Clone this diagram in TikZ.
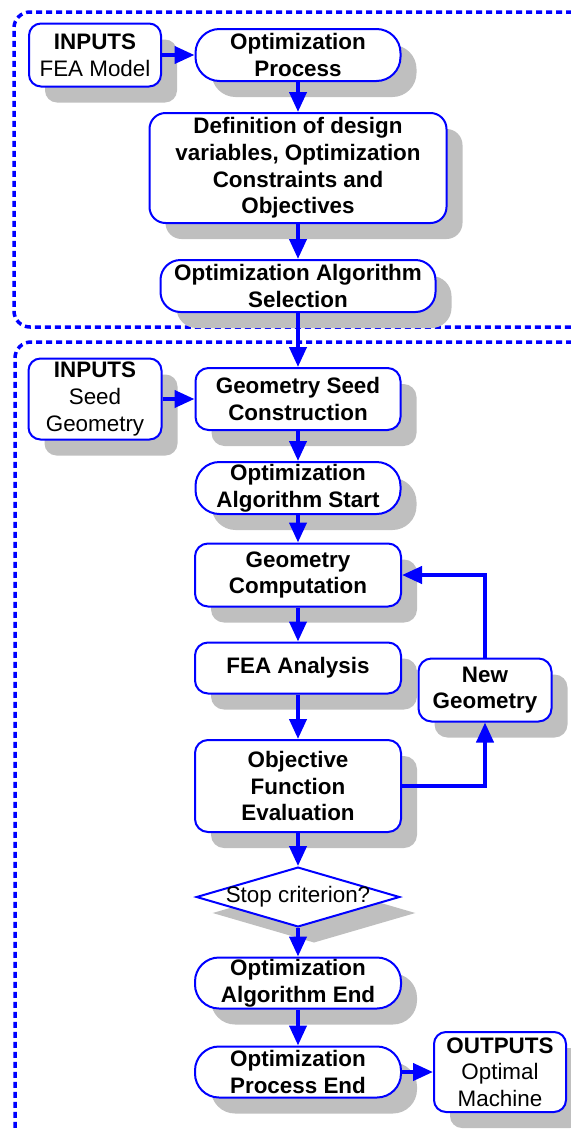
\documentclass[tikz,border=0pt]{standalone}
\usepackage{fontspec}
\setmainfont{Liberation Sans}
\usetikzlibrary{shapes.geometric,shadows,arrows.meta}

\colorlet{box edge}{blue}
\colorlet{box shadow}{black!25}
\tikzset{
  shadowed/.style={drop shadow={shadow xshift=8pt, shadow yshift=-8pt, fill=box shadow, opacity=1}},
  block/.style={rectangle, draw=box edge, line width=1pt, fill=white, rounded corners=6.5pt,
    align=center, inner sep=0pt, font=\bfseries\fontsize{11.2}{13.3}\selectfont, shadowed},
  terminal/.style={block, rounded corners=12pt},
  io/.style={block, rounded corners=6pt, font=\fontsize{11.2}{13.3}\selectfont},
  decision/.style={diamond, aspect=3.4, draw=box edge, line width=1pt, fill=white,
    inner xsep=-3pt, inner ysep=0pt, font=\fontsize{11.2}{13.3}\selectfont, shadowed}
  }
\tikzstyle{flow} = [draw=blue, line width=2pt, -{Triangle[length=10pt,width=8.5pt]}]
\tikzstyle{dashed frame} = [draw=blue, line width=1.75pt, dash pattern=on 3pt off 2pt, rounded corners=8pt]

\begin{document}
\begin{tikzpicture}[x=0.5pt, y=-0.5pt]
    \useasboundingbox (0,0) rectangle (571,1130);

    % The two dashed groups
    \path[dashed frame] (572,12) -- (14,12) -- (14,327) -- (572,327);
    \path[dashed frame] (572,342) -- (15,342) -- (15,1132);

    % Setting up the optimization
    \node[io, minimum width=66pt, minimum height=31.5pt] (fea) at (95,55) {\textbf{INPUTS}\\FEA Model};
    \node[terminal, minimum width=102.5pt, minimum height=26pt] (process) at (298,55) {Optimization\\Process};
    \node[block, minimum width=148.5pt, minimum height=55pt, rounded corners=8pt] (defs) at (298,168)
      {Definition of design\\variables, Optimization\\Constraints and\\Objectives};
    \node[terminal, minimum width=137.5pt, minimum height=26pt, rounded corners=10pt] (select) at (298,286)
      {Optimization Algorithm\\Selection};

    % The optimization loop
    \node[io, minimum width=66.5pt, minimum height=40.5pt] (seed) at (95,399) {\textbf{INPUTS}\\Seed\\Geometry};
    \node[block, minimum width=102.5pt, minimum height=31pt] (construct) at (298,399) {Geometry Seed\\Construction};
    \node[terminal, minimum width=102.5pt, minimum height=26pt] (start) at (298,488) {Optimization\\Algorithm Start};
    \node[block, minimum width=103pt, minimum height=31.5pt] (compute) at (298,575) {Geometry\\Computation};
    \node[block, minimum width=103pt, minimum height=25.5pt] (analysis) at (298,668) {FEA Analysis};
    \node[block, minimum width=66.5pt, minimum height=31.5pt] (newgeo) at (485,690) {New\\Geometry};
    \node[block, minimum width=103pt, minimum height=46pt] (objective) at (298,786) {Objective\\Function\\Evaluation};
    \node[decision] (stop) at (298,897) {Stop criterion?};
    \node[terminal, minimum width=103pt, minimum height=25.5pt] (algend) at (298,983) {Optimization\\Algorithm End};
    \node[terminal, minimum width=103pt, minimum height=25.5pt] (procend) at (298,1072) {Optimization\\Process End};
    \node[io, minimum width=66pt, minimum height=40pt] (outputs) at (500,1072) {\textbf{OUTPUTS}\\Optimal\\Machine};

    % The connections between them
    \foreach \source/\sink in {fea/process, process/defs, defs/select, select/construct, seed/construct,
      construct/start, start/compute, compute/analysis, analysis/objective, objective/stop,
      stop/algend, algend/procend, procend/outputs} {
      \path[flow] (\source) -- (\sink);
    }
    \path[flow] (objective.east) -| (newgeo.south);
    \path[flow] (newgeo.north) |- (compute.east);
\end{tikzpicture}
\end{document}
